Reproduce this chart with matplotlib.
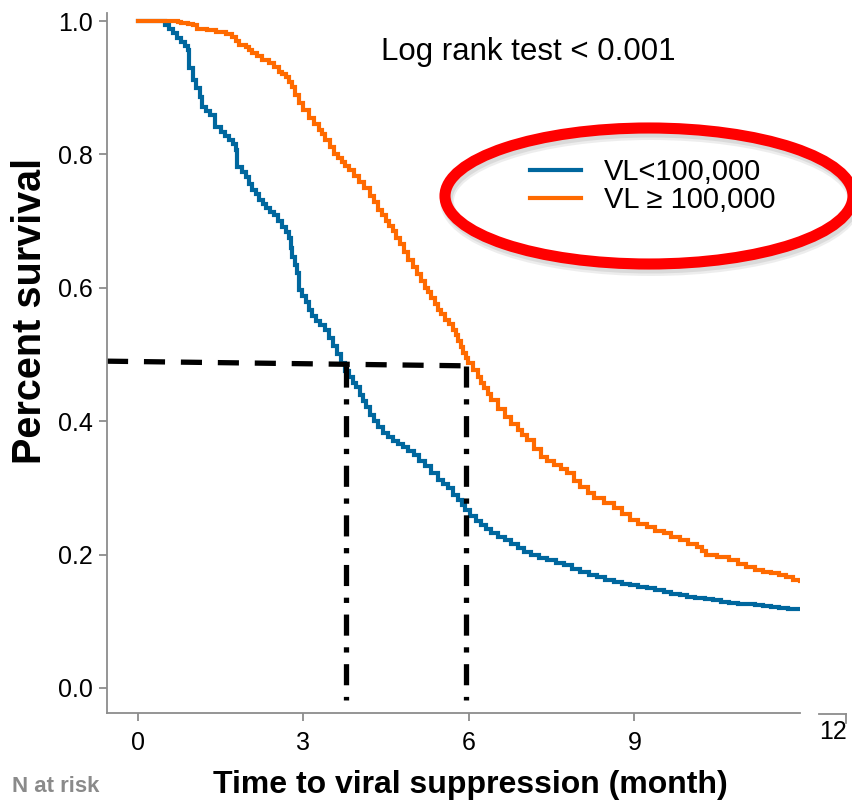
import matplotlib
matplotlib.use("Agg")
import matplotlib.pyplot as plt
from matplotlib.patches import Ellipse
from matplotlib.lines import Line2D

plt.rcParams['font.family'] = ['Liberation Sans', 'DejaVu Sans']

# ---- data: (month, survival) ----
blue_curve = [
    (0.00, 1.000), (0.43, 1.000), (0.50, 0.994), (0.56, 0.988), (0.63, 0.982), (0.71, 0.975),
    (0.79, 0.969), (0.85, 0.963), (0.90, 0.957), (0.92, 0.930), (0.99, 0.912), (1.05, 0.900),
    (1.12, 0.886), (1.17, 0.871), (1.24, 0.865), (1.30, 0.859), (1.39, 0.841), (1.51, 0.834),
    (1.58, 0.828), (1.66, 0.822), (1.72, 0.815), (1.78, 0.807), (1.80, 0.781), (1.88, 0.773),
    (1.96, 0.766), (2.02, 0.756), (2.07, 0.747), (2.14, 0.740), (2.20, 0.732), (2.26, 0.726),
    (2.32, 0.720), (2.40, 0.714), (2.47, 0.709), (2.54, 0.700), (2.61, 0.691), (2.68, 0.683),
    (2.74, 0.675), (2.77, 0.660), (2.79, 0.646), (2.84, 0.634), (2.88, 0.622), (2.92, 0.597),
    (2.98, 0.588), (3.04, 0.578), (3.10, 0.566), (3.16, 0.558), (3.22, 0.550), (3.30, 0.544),
    (3.40, 0.537), (3.47, 0.524), (3.53, 0.512), (3.60, 0.500), (3.69, 0.487), (3.76, 0.476),
    (3.82, 0.466), (3.89, 0.458), (3.95, 0.451), (4.02, 0.440), (4.08, 0.430), (4.13, 0.421),
    (4.20, 0.410), (4.28, 0.400), (4.36, 0.391), (4.45, 0.383), (4.54, 0.376), (4.62, 0.370),
    (4.72, 0.366), (4.81, 0.361), (4.90, 0.355), (5.00, 0.350), (5.10, 0.341), (5.20, 0.333),
    (5.32, 0.322), (5.44, 0.312), (5.53, 0.306), (5.62, 0.300), (5.71, 0.290), (5.80, 0.282),
    (5.87, 0.275), (5.93, 0.267), (6.02, 0.258), (6.12, 0.250), (6.22, 0.244), (6.30, 0.238),
    (6.40, 0.232), (6.52, 0.227), (6.65, 0.222), (6.76, 0.216), (6.88, 0.210), (7.00, 0.204),
    (7.12, 0.199), (7.27, 0.195), (7.42, 0.192), (7.57, 0.188), (7.73, 0.184), (7.87, 0.179),
    (8.02, 0.174), (8.17, 0.170), (8.32, 0.166), (8.47, 0.162), (8.63, 0.159), (8.77, 0.156),
    (8.92, 0.154), (9.07, 0.152), (9.23, 0.150), (9.38, 0.147), (9.53, 0.144), (9.67, 0.141),
    (9.82, 0.139), (9.96, 0.137), (10.10, 0.135), (10.27, 0.133), (10.43, 0.132), (10.57, 0.129),
    (10.72, 0.127), (10.88, 0.126), (11.03, 0.126), (11.18, 0.124), (11.33, 0.123), (11.47, 0.121),
    (11.62, 0.120), (11.78, 0.119), (11.93, 0.118), (12.00, 0.118),
]

orange_curve = [
    (0.00, 1.000), (0.63, 1.000), (0.72, 0.999), (0.79, 0.997), (0.90, 0.996), (0.99, 0.994),
    (1.08, 0.988), (1.25, 0.986), (1.42, 0.984), (1.52, 0.983), (1.60, 0.981), (1.71, 0.976),
    (1.78, 0.970), (1.84, 0.964), (1.96, 0.961), (2.02, 0.957), (2.07, 0.952), (2.16, 0.947),
    (2.25, 0.942), (2.38, 0.937), (2.47, 0.931), (2.56, 0.924), (2.62, 0.920), (2.68, 0.916),
    (2.74, 0.909), (2.79, 0.901), (2.85, 0.889), (2.92, 0.877), (3.00, 0.866), (3.10, 0.855),
    (3.19, 0.846), (3.28, 0.837), (3.34, 0.830), (3.40, 0.822), (3.48, 0.811), (3.55, 0.800),
    (3.62, 0.795), (3.70, 0.789), (3.76, 0.783), (3.82, 0.777), (3.91, 0.768), (4.00, 0.759),
    (4.10, 0.749), (4.20, 0.738), (4.28, 0.728), (4.36, 0.717), (4.43, 0.709), (4.50, 0.700),
    (4.56, 0.693), (4.62, 0.685), (4.68, 0.675), (4.75, 0.665), (4.83, 0.653), (4.90, 0.642),
    (4.98, 0.631), (5.05, 0.620), (5.13, 0.610), (5.20, 0.600), (5.26, 0.593), (5.32, 0.585),
    (5.38, 0.576), (5.44, 0.567), (5.50, 0.560), (5.57, 0.552), (5.64, 0.545), (5.71, 0.537),
    (5.76, 0.529), (5.80, 0.520), (5.85, 0.511), (5.89, 0.502), (5.94, 0.494), (5.98, 0.487),
    (6.07, 0.477), (6.16, 0.466), (6.22, 0.458), (6.28, 0.450), (6.34, 0.441), (6.40, 0.432),
    (6.52, 0.419), (6.65, 0.406), (6.77, 0.396), (6.88, 0.387), (6.97, 0.380), (7.06, 0.372),
    (7.18, 0.359), (7.30, 0.346), (7.42, 0.340), (7.55, 0.334), (7.66, 0.328), (7.78, 0.322),
    (7.90, 0.311), (8.02, 0.301), (8.15, 0.293), (8.27, 0.285), (8.45, 0.277), (8.63, 0.270),
    (8.78, 0.261), (8.92, 0.252), (9.07, 0.246), (9.23, 0.241), (9.38, 0.236), (9.53, 0.232),
    (9.67, 0.227), (9.82, 0.222), (9.97, 0.216), (10.13, 0.211), (10.22, 0.205), (10.30, 0.199),
    (10.50, 0.196), (10.72, 0.192), (10.88, 0.186), (11.03, 0.181), (11.18, 0.177), (11.33, 0.174),
    (11.47, 0.172), (11.62, 0.169), (11.75, 0.166), (11.87, 0.162), (12.00, 0.160),
]

labels = ["VL<100,000", "VL \u2265 100,000"]
x_ticks = [0, 3, 6, 9]
y_ticks = [0.0, 0.2, 0.4, 0.6, 0.8, 1.0]
median_y = [0.490, 0.483]      # horizontal guide (left end, right end)
median_x = [3.78, 5.95]        # median times of the two groups

W, H = 853, 807
fig = plt.figure(figsize=(W / 100, H / 100), dpi=100)
ax = fig.add_axes([107 / W, 1 - 713 / H, 693 / W, 700 / H])
ax.set_xlim(-0.56, 12.0)
ax.set_ylim(-0.0375, 1.012)

blue = '#00679e'
orange = '#ff6a00'
bt, bs = zip(*blue_curve)
ot, os_ = zip(*orange_curve)
ax.plot(bt, bs, drawstyle='steps-post', color=blue, lw=3.0, label=labels[0],
        solid_joinstyle='miter')
ax.plot(ot, os_, drawstyle='steps-post', color=orange, lw=3.0, label=labels[1],
        solid_joinstyle='miter')

# median guide lines
ax.plot([-0.56, median_x[1]], median_y, color='black', lw=3.8,
        dashes=(4.0, 3.0), dash_capstyle='butt', clip_on=False)
for mx in median_x:
    ax.plot([mx, mx], [median_y[1], -0.018], color='black', lw=3.8,
            dashes=(4.0, 2.2, 1.0, 2.2), dash_capstyle='butt', clip_on=False)

for side in ['top', 'right']:
    ax.spines[side].set_visible(False)
for side in ['left', 'bottom']:
    ax.spines[side].set_color('#8c8c8c')
    ax.spines[side].set_linewidth(1.3)
ax.set_xticks(x_ticks)
ax.set_xticklabels([str(v) for v in x_ticks])
ax.set_yticks(y_ticks)
ax.set_yticklabels([f"{v:.1f}" for v in y_ticks])
ax.tick_params(axis='both', colors='#8c8c8c', labelcolor='black', labelsize=18,
               length=6, width=1.3, direction='out')
ax.tick_params(axis='x', pad=7)
ax.tick_params(axis='y', pad=4)

# detached "12" tick segment
fig.add_artist(Line2D([819 / W, 846 / W], [1 - 714 / H, 1 - 714 / H], color='#8c8c8c', lw=1.3))
fig.add_artist(Line2D([846 / W, 846 / W], [1 - 714 / H, 1 - 723 / H], color='#8c8c8c', lw=1.3))
fig.text(833 / W, 1 - 732 / H, "12", ha='center', va='center', fontsize=18)

fig.text(30 / W, 1 - 311 / H, "Percent survival", rotation=90, ha='center', va='center',
         fontsize=28.5, fontweight='bold')
fig.text(470 / W, 1 - 785 / H, "Time to viral suppression (month)", ha='center', va='center',
         fontsize=23, fontweight='bold')
fig.text(56 / W, 1 - 787 / H, "N at risk", ha='center', va='center', fontsize=16,
         fontweight='bold', color='#8a8a8a')
fig.text(528 / W, 1 - 52 / H, "Log rank test < 0.001", ha='center', va='center', fontsize=22.5)

leg = ax.legend(loc='upper left', bbox_to_anchor=(530 / W, 1 - 158 / H),
                bbox_transform=fig.transFigure, frameon=False, fontsize=21,
                handlelength=1.75, handletextpad=0.78, labelspacing=0.0, borderpad=0,
                borderaxespad=0)

# red ellipse with soft shadow
for dx, dy, a, lw in [(2, -5, 0.10, 14), (2, -4, 0.12, 11)]:
    fig.add_artist(Ellipse(((649 + dx) / W, 1 - (196 - dy) / H), 408 / W, 136 / H,
                           fill=False, edgecolor='#555555', alpha=a, lw=lw * 0.72))
fig.add_artist(Ellipse((649 / W, 1 - 196 / H), 408 / W, 136 / H, fill=False,
                       edgecolor='#ff0000', lw=8.0))

fig.savefig('out.png', dpi=100)
